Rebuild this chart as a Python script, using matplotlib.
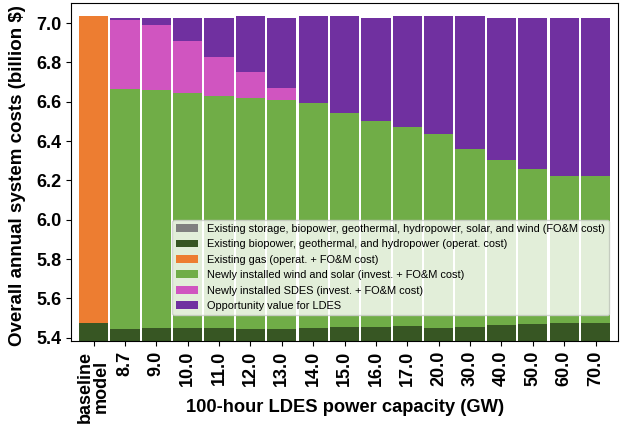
import matplotlib
matplotlib.use("Agg")
import matplotlib.pyplot as plt
import numpy as np

plt.rcParams['font.family'] = ['Liberation Sans', 'DejaVu Sans']

categories = ["baseline\nmodel", "8.7", "9.0", "10.0", "11.0", "12.0", "13.0", "14.0",
              "15.0", "16.0", "17.0", "20.0", "30.0", "40.0", "50.0", "60.0", "70.0"]

# cumulative boundaries (billion $)
existing_storage = [4.60] * 17
dark_top = [5.473, 5.442, 5.447, 5.447, 5.447, 5.442, 5.442, 5.447, 5.453, 5.453,
            5.458, 5.447, 5.453, 5.463, 5.468, 5.473, 5.473]
orange_top = [7.034] + [None] * 16
green_top = [None, 6.665, 6.662, 6.645, 6.631, 6.621, 6.611, 6.595, 6.543, 6.503,
             6.472, 6.436, 6.359, 6.303, 6.257, 6.222, 6.222]
pink_top = [None, 7.017, 6.991, 6.910, 6.828, 6.752, 6.670, None, None, None,
            None, None, None, None, None, None, None]
total_top = [7.034, 7.027, 7.027, 7.027, 7.027, 7.034, 7.027, 7.034, 7.034, 7.027,
             7.034, 7.034, 7.034, 7.027, 7.027, 7.027, 7.027]

existing_bio = [d - s for d, s in zip(dark_top, existing_storage)]
existing_gas = [(o - d) if o is not None else 0.0 for o, d in zip(orange_top, dark_top)]
new_ws = [(g - d) if g is not None else 0.0 for g, d in zip(green_top, dark_top)]
new_sdes = [(p - g) if p is not None else 0.0 for p, g in zip(pink_top, green_top)]
opp_ldes = []
for i in range(17):
    base = existing_storage[i] + existing_bio[i] + existing_gas[i] + new_ws[i] + new_sdes[i]
    opp_ldes.append(max(total_top[i] - base, 0.0) if i > 0 else 0.0)

series = [
    ("Existing storage, biopower, geothermal, hydropower, solar, and wind (FO&M cost)", existing_storage, "#808080"),
    ("Existing biopower, geothermal, and hydropower (operat. cost)", existing_bio, "#375623"),
    ("Existing gas (operat. + FO&M cost)", existing_gas, "#ed7d31"),
    ("Newly installed wind and solar (invest. + FO&M cost)", new_ws, "#70ad47"),
    ("Newly installed SDES (invest. + FO&M cost)", new_sdes, "#d055c0"),
    ("Opportunity value for LDES", opp_ldes, "#7030a0"),
]

fig = plt.figure(figsize=(6.25, 4.26), dpi=100)
ax = fig.add_axes([0.1136, 0.1995, 0.8754, 0.7935])

x = np.arange(len(categories))
bottom = np.zeros(len(categories))
for label, vals, color in series:
    vals = np.array(vals)
    ax.bar(x, vals, width=0.93, bottom=bottom, color=color, label=label, linewidth=0)
    bottom += vals

ax.set_ylim(5.383, 7.102)
ax.set_xlim(-0.72, 16.72)
yt = [5.4, 5.6, 5.8, 6.0, 6.2, 6.4, 6.6, 6.8, 7.0]
ax.set_yticks(yt)
ax.set_yticklabels([f"{v:.1f}" for v in yt], fontsize=13, fontweight='bold')
ax.set_xticks(x)
ax.set_xticklabels(categories, rotation=90, fontsize=13, fontweight='bold', linespacing=0.9)
ax.set_ylabel("Overall annual system costs (billion $)", fontsize=13.5, fontweight='bold',
              labelpad=1)
ax.yaxis.set_label_coords(-0.082, 0.49)
ax.set_xlabel("100-hour LDES power capacity (GW)", fontsize=13.2, fontweight='bold')
ax.xaxis.set_label_coords(0.5, -0.172)

ax.legend(loc='lower right', fontsize=7.9, bbox_to_anchor=(0.983, 0.077),
          framealpha=0.8, borderpad=0.35, labelspacing=0.5, handletextpad=0.8,
          borderaxespad=0)

fig.savefig("out.png", dpi=100)
